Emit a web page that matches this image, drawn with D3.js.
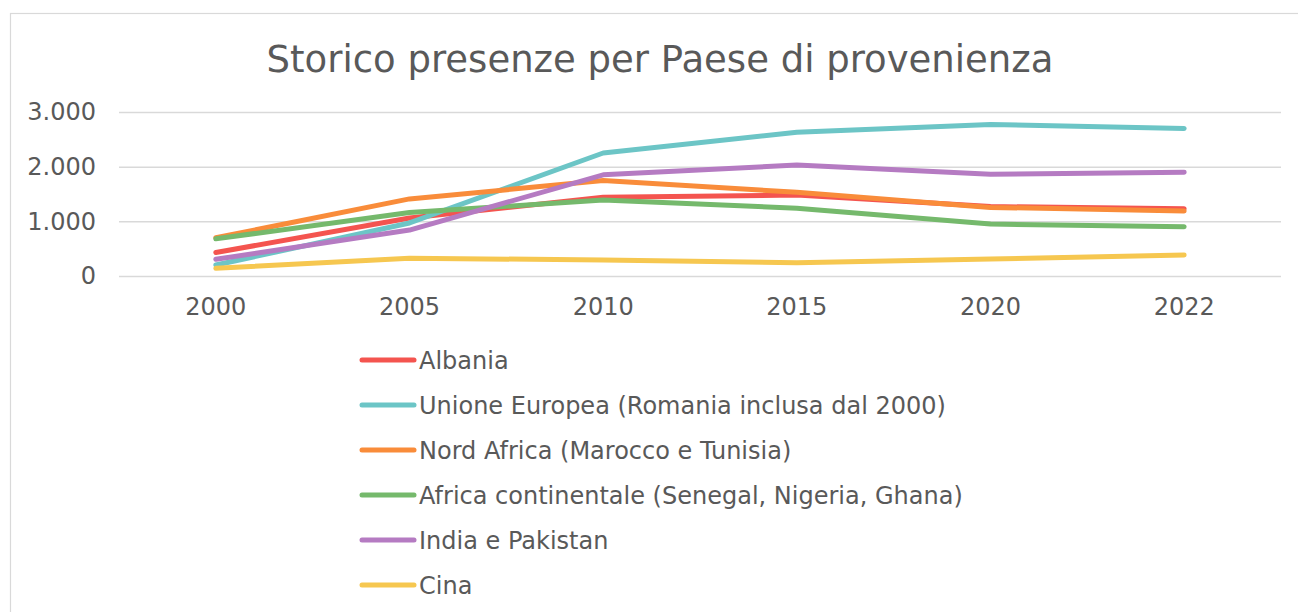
<!DOCTYPE html>
<html>
<head>
<meta charset="utf-8">
<script src="https://cdn.jsdelivr.net/npm/d3@7"></script>
<style>
  html, body { margin: 0; padding: 0; background: #fff; }
  svg { display: block; }
  text { font-family: "DejaVu Sans", Verdana, sans-serif; fill: #595959; }
</style>
</head>
<body>
<svg id="chart" width="1298" height="612"></svg>
<script>
// Years on the category axis
const years = ["2000", "2005", "2010", "2015", "2020", "2022"];

// Presences per area of origin
const albania      = [430, 1060, 1440, 1480, 1270, 1230];
const unioneEuropea = [200, 970, 2250, 2630, 2770, 2700];
const nordAfrica   = [700, 1410, 1745, 1530, 1255, 1190];
const africaCont   = [680, 1160, 1390, 1240, 950, 900];
const indiaPakistan = [305, 840, 1850, 2030, 1860, 1900];
const cina         = [140, 325, 293, 244, 311, 385];

const seriesNames = [
  "Albania",
  "Unione Europea (Romania inclusa dal 2000)",
  "Nord Africa (Marocco e Tunisia)",
  "Africa continentale (Senegal, Nigeria, Ghana)",
  "India e Pakistan",
  "Cina"
];
const seriesColors = ["#F4544F", "#6CC5C6", "#F98C3A", "#75B96C", "#B57BC2", "#F6C750"];
const yTicks = [0, 1000, 2000, 3000];

const series = seriesNames.map((name, i) => ({
  name,
  color: seriesColors[i],
  values: [albania, unioneEuropea, nordAfrica, africaCont, indiaPakistan, cina][i]
}));

const svg = d3.select("#chart");

// Chart frame
svg.append("rect")
  .attr("x", 10.5).attr("y", 13.5)
  .attr("width", 1300).attr("height", 620)
  .attr("fill", "#fff")
  .attr("stroke", "#d9d9d9").attr("stroke-width", 1.2);

// Title
svg.append("text")
  .attr("x", 660).attr("y", 72)
  .attr("text-anchor", "middle")
  .attr("font-size", 37)
  .text("Storico presenze per Paese di provenienza");

const x = d3.scaleBand().domain(years).range([119, 1281]).padding(0);
const y = d3.scaleLinear().domain([0, 3000]).range([276, 112]);
const xc = d => x(d) + x.bandwidth() / 2;

// Horizontal gridlines and value labels
const yAxis = d3.axisLeft(y)
  .tickValues(yTicks)
  .tickSize(-(1281 - 119))
  .tickPadding(23)
  .tickFormat(d => d3.format(",")(d).replace(/,/g, "."));

const gy = svg.append("g").attr("transform", "translate(119,0)").call(yAxis);
gy.select(".domain").remove();
gy.selectAll(".tick line").attr("stroke", "#d9d9d9").attr("stroke-width", 1.5);
gy.selectAll(".tick text")
  .attr("font-size", 24)
  .attr("font-family", "DejaVu Sans, Verdana, sans-serif")
  .attr("fill", "#595959");

// Category labels
const xAxis = d3.axisBottom(x).tickSize(0).tickPadding(22);
const gx = svg.append("g").attr("transform", "translate(0,276)").call(xAxis);
gx.select(".domain").remove();
gx.selectAll(".tick text")
  .attr("font-size", 24)
  .attr("font-family", "DejaVu Sans, Verdana, sans-serif")
  .attr("fill", "#595959");

// Lines
const line = d3.line()
  .x((d, i) => xc(years[i]))
  .y(d => y(d));

svg.append("g").selectAll("path")
  .data(series)
  .join("path")
  .attr("d", s => line(s.values))
  .attr("fill", "none")
  .attr("stroke", s => s.color)
  .attr("stroke-width", 5)
  .attr("stroke-linecap", "round")
  .attr("stroke-linejoin", "round");

// Legend
const legend = svg.append("g");
const rows = legend.selectAll("g")
  .data(series)
  .join("g")
  .attr("transform", (s, i) => `translate(0,${360 + i * 45})`);

rows.append("line")
  .attr("x1", 362).attr("x2", 414)
  .attr("y1", 0).attr("y2", 0)
  .attr("stroke", s => s.color)
  .attr("stroke-width", 5)
  .attr("stroke-linecap", "round");

rows.append("text")
  .attr("x", 419).attr("y", 8.5)
  .attr("font-size", 24)
  .text(s => s.name);
</script>
</body>
</html>
